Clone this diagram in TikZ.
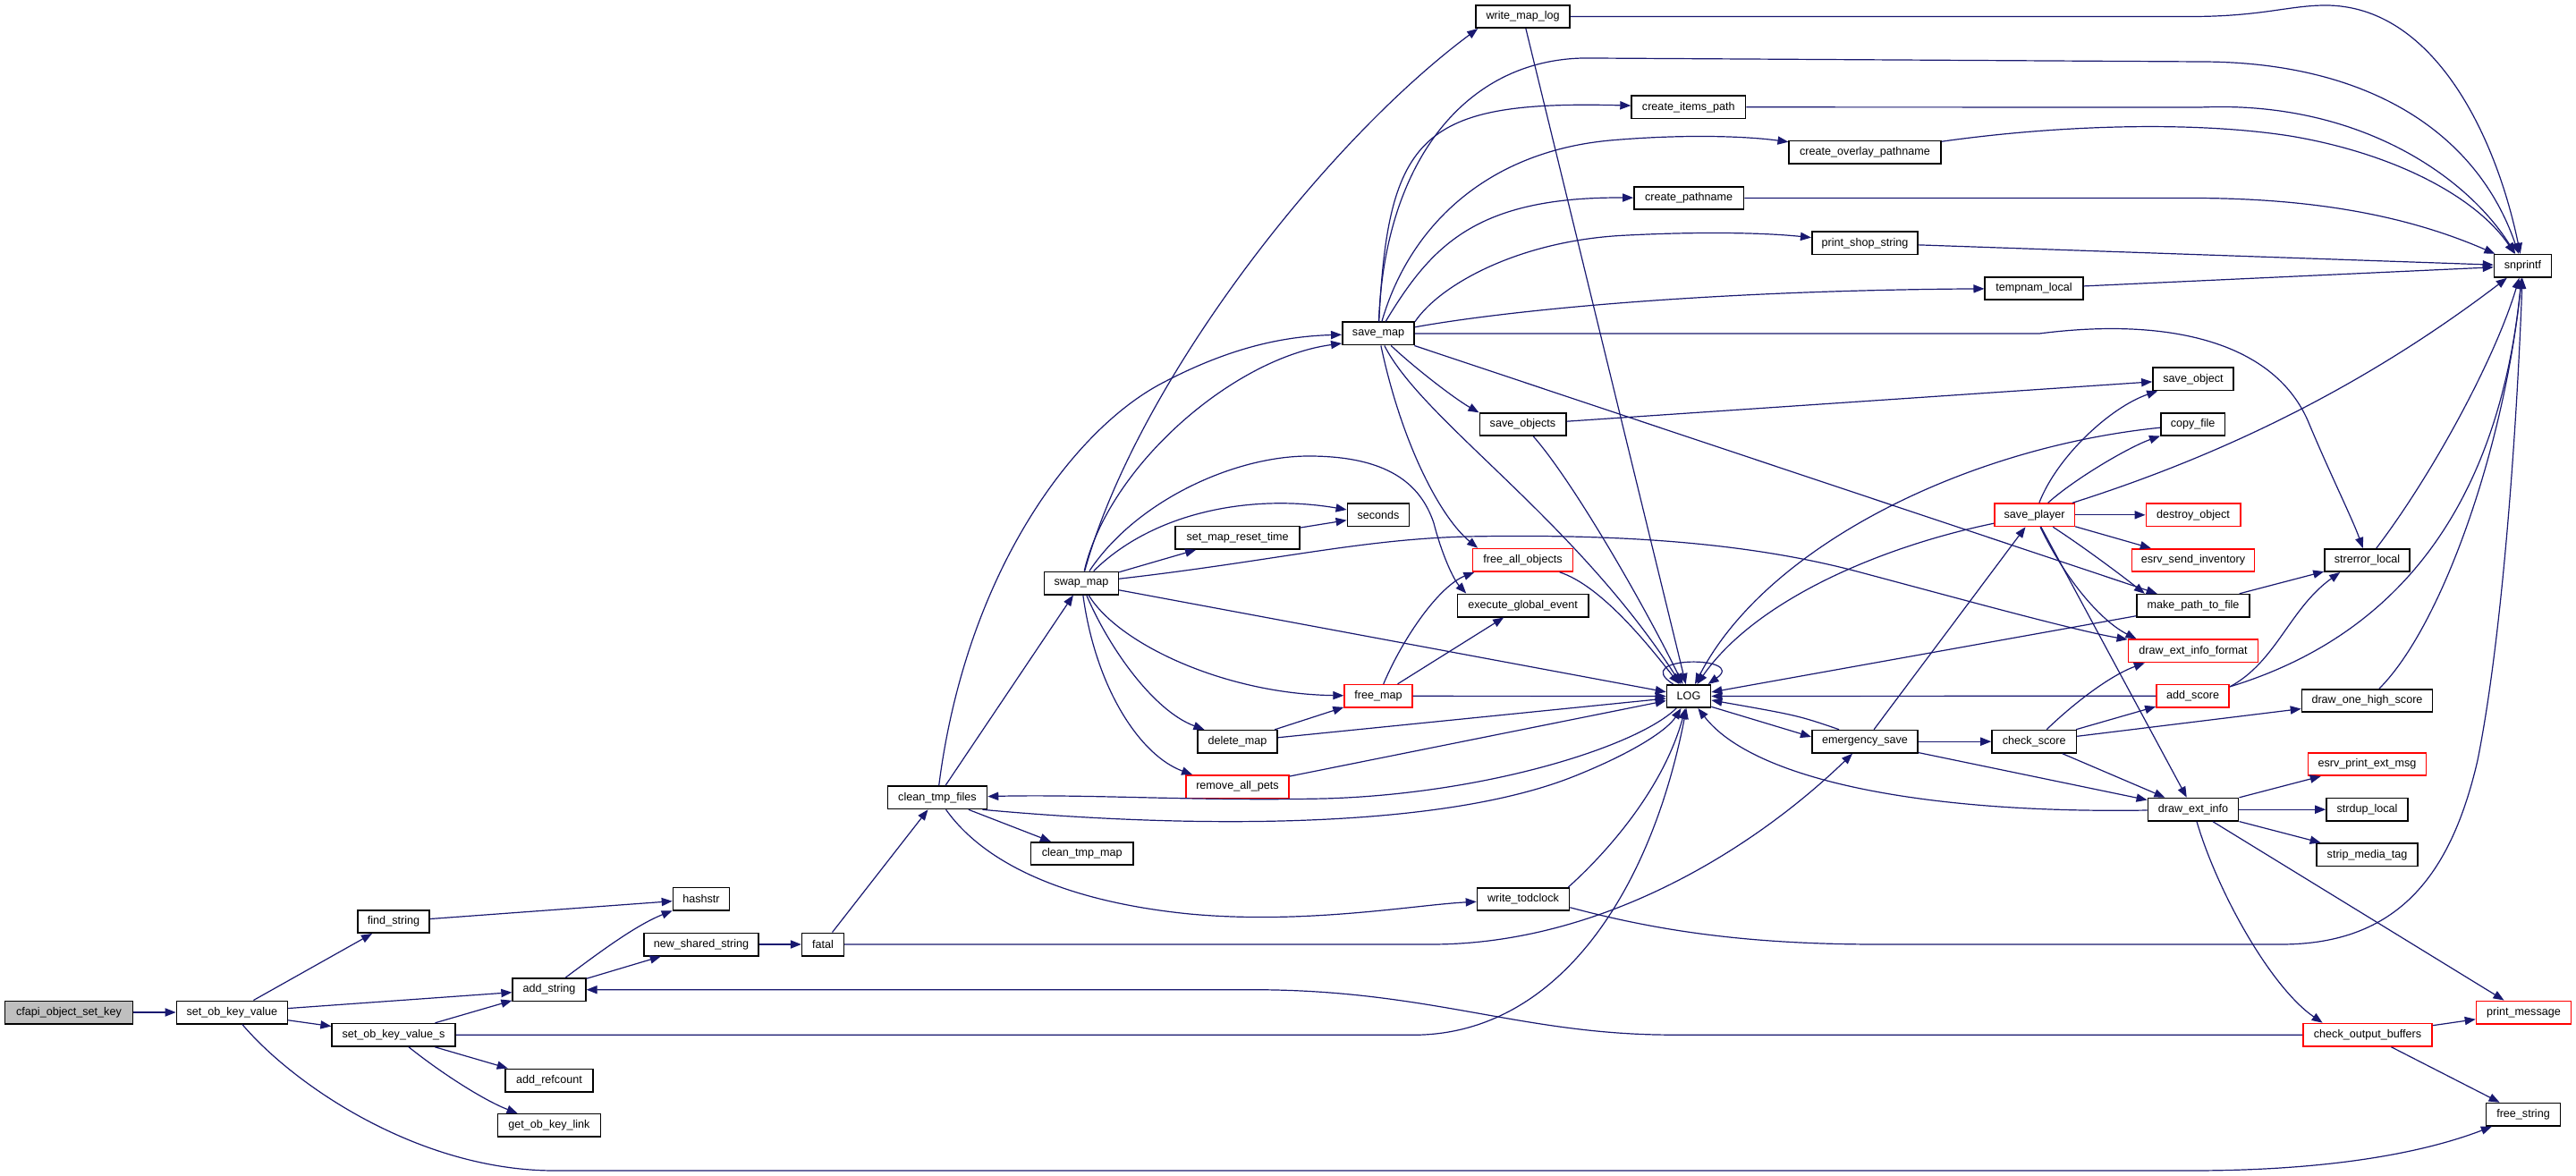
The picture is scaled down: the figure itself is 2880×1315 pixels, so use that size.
\documentclass[tikz,border=0pt]{standalone}
\usepackage{fontspec}
\setmainfont{Liberation Sans}
\usetikzlibrary{arrows.meta}
\definecolor{edgecol}{HTML}{191970}
\definecolor{grayfill}{HTML}{BFBFBF}
\newcommand{\fsz}{\fontsize{6.3}{7.5}\selectfont}
\begin{document}
\begin{tikzpicture}[x=0.5pt,y=-0.5pt,
 nd/.style={draw=black, line width=0.8pt, fill=white, minimum height=12.7pt, inner xsep=0pt, inner ysep=0pt, font=\fsz, text=black},
 rnd/.style={nd, draw=red},
 ed/.style={draw=edgecol, line width=0.6pt, -{Triangle[length=6pt,width=4.6pt]}}]
\fill[white] (0,0) rectangle (2880,1315);
\useasboundingbox (0,0) rectangle (2880,1315);
% nodes
\node[nd, minimum width=71.5pt, fill=grayfill] (cfapi) at (77,1132) {cfapi\_object\_set\_key};
\node[nd, minimum width=62pt] (sokv) at (259.4,1132) {set\_ob\_key\_value};
\node[nd, minimum width=40.15pt] (findstr) at (440,1030.5) {find\_string};
\node[nd, minimum width=68.85pt] (sokvs) at (440,1157.3) {set\_ob\_key\_value\_s};
\node[nd, minimum width=40.85pt] (addstr) at (614,1106.7) {add\_string};
\node[nd, minimum width=48.85pt] (addref) at (614,1208) {add\_refcount};
\node[nd, minimum width=57.5pt] (getlink) at (614,1258.3) {get\_ob\_key\_link};
\node[nd, minimum width=31.5pt] (hashstr) at (784,1005.3) {hashstr};
\node[nd, minimum width=64.15pt] (newss) at (784,1056) {new\_shared\_string};
\node[nd, minimum width=23.35pt] (fatal) at (920,1056) {fatal};
\node[nd, minimum width=55.5pt] (ctf) at (1048,891.8) {clean\_tmp\_files};
\node[nd, minimum width=41.35pt] (swap) at (1209,652) {swap\_map};
\node[nd, minimum width=57.35pt] (ctm) at (1209.7,954.5) {clean\_tmp\_map};
\node[nd, minimum width=69.35pt] (smrt) at (1383.6,601.3) {set\_map\_reset\_time};
\node[nd, minimum width=44.5pt] (delmap) at (1383.5,829.3) {delete\_map};
\node[rnd, minimum width=57.5pt] (rmpets) at (1383.5,879.7) {remove\_all\_pets};
\node[nd, minimum width=40.15pt] (savemap) at (1541,373) {save\_map};
\node[nd, minimum width=34.65pt] (seconds) at (1541,576) {seconds};
\node[rnd, minimum width=37.9pt] (freemap) at (1541,778.3) {free\_map};
\node[nd, minimum width=52.5pt] (wml) at (1702.6,18.5) {write\_map\_log};
\node[nd, minimum width=48.2pt] (saveobjs) at (1702.5,474.5) {save\_objects};
\node[rnd, minimum width=56pt] (freeall) at (1702.5,626.3) {free\_all\_objects};
\node[nd, minimum width=73.25pt] (ege) at (1702.7,677) {execute\_global\_event};
\node[nd, minimum width=51.5pt] (wtod) at (1703,1005.5) {write\_todclock};
\node[nd, minimum width=24.5pt] (LOG) at (1888,778.5) {LOG};
\node[nd, minimum width=63.7pt] (cip) at (1887.8,119.8) {create\_items\_path};
\node[nd, minimum width=61.3pt] (cpn) at (1888.2,221.5) {create\_pathname};
\node[nd, minimum width=84.75pt] (cop) at (2085,170.3) {create\_overlay\_pathname};
\node[nd, minimum width=59.25pt] (pss) at (2085,271.8) {print\_shop\_string};
\node[nd, minimum width=59.25pt] (esave) at (2085,829.2) {emergency\_save};
\node[nd, minimum width=54.75pt] (tmpnam) at (2274,322.5) {tempnam\_local};
\node[rnd, minimum width=44.75pt] (splayer) at (2274.6,575.8) {save\_player};
\node[nd, minimum width=47.2pt] (cscore) at (2274.2,829.2) {check\_score};
\node[nd, minimum width=45.1pt] (saveobj) at (2452,423.8) {save\_object};
\node[nd, minimum width=35.8pt] (copyfile) at (2451.6,474.5) {copy\_file};
\node[rnd, minimum width=52.7pt] (destroy) at (2452,575.8) {destroy\_object};
\node[rnd, minimum width=68.5pt] (esi) at (2452,626.5) {esrv\_send\_inventory};
\node[nd, minimum width=63pt] (mptf) at (2452,677.3) {make\_path\_to\_file};
\node[rnd, minimum width=72.65pt] (deif) at (2452,727.8) {draw\_ext\_info\_format};
\node[rnd, minimum width=40.65pt] (addscore) at (2451.6,778.2) {add\_score};
\node[nd, minimum width=50.65pt] (dei) at (2452,905.2) {draw\_ext\_info};
\node[nd, minimum width=47.5pt] (strerr) at (2646.5,626.5) {strerror\_local};
\node[nd, minimum width=73pt] (dohs) at (2646.5,783.5) {draw\_one\_high\_score};
\node[rnd, minimum width=66.15pt] (epem) at (2646.5,854.5) {esrv\_print\_ext\_msg};
\node[nd, minimum width=45.5pt] (strdup) at (2646.5,905.2) {strdup\_local};
\node[nd, minimum width=56.5pt] (smt) at (2646.5,955.8) {strip\_media\_tag};
\node[rnd, minimum width=72pt] (cob) at (2647,1157.2) {check\_output\_buffers};
\node[nd, minimum width=32pt] (snprintf) at (2820.5,297.3) {snprintf};
\node[rnd, minimum width=53pt] (pmsg) at (2821.5,1132) {print\_message};
\node[nd, minimum width=41.65pt] (freestr) at (2821,1246.2) {free\_string};
% edges
\draw[ed] (cfapi) -- (sokv);
\draw[ed] (sokv) -- (findstr);
\draw[ed] (sokv) -- (addstr);
\draw[ed] (sokv) -- (sokvs);
\draw[ed] (sokv) .. controls (330,1215) and (470,1309) .. (620,1309) -- (2450,1309) .. controls (2620,1309) and (2720,1285) .. (freestr);
\draw[ed] (findstr) -- (hashstr);
\draw[ed] (addstr) .. controls (670,1065) and (710,1035) .. (hashstr);
\draw[ed] (addstr) -- (newss);
\draw[ed] (sokvs) -- (addstr);
\draw[ed] (sokvs) -- (1580,1157.3) .. controls (1740,1157.3) and (1845,1000) .. (LOG);
\draw[ed] (sokvs) -- (addref);
\draw[ed] (sokvs) .. controls (500,1205) and (545,1232) .. (getlink);
\draw[ed] (newss) -- (fatal);
\draw[ed] (fatal) -- (ctf);
\draw[ed] (fatal) -- (1600,1056) .. controls (1790,1056) and (1960,950) .. (esave);
\draw[ed] (ctf) -- (swap);
\draw[ed] (ctf) .. controls (1080,640) and (1200,480) .. (1300,428) .. controls (1380,386) and (1440,376) .. (savemap);
\draw[ed] (ctf) -- (ctm);
\draw[ed] (ctf) .. controls (1100,965) and (1190,1008) .. (1330,1022) .. controls (1460,1034) and (1580,1012) .. (wtod);
\draw[ed] (ctf.-15) .. controls (1300,924) and (1600,932) .. (1760,868) .. controls (1830,840) and (1865,815) .. (LOG);
\draw[ed] (LOG) .. controls (1830,835) and (1660,888) .. (1480,893) .. controls (1340,896) and (1220,888) .. (ctf);
\draw[ed] (swap) .. controls (1240,520) and (1380,400) .. (savemap.195);
\draw[ed] (swap) .. controls (1270,430) and (1480,160) .. (wml.195);
\draw[ed] (swap) .. controls (1290,572) and (1400,552) .. (seconds);
\draw[ed] (swap) -- (smrt);
\draw[ed] (smrt) -- (seconds);
\draw[ed] (swap) .. controls (1270,560) and (1380,510) .. (1463,510) .. controls (1550,510) and (1588,540) .. (1603,585) .. controls (1612,620) and (1625,648) .. (ege.168);
\draw[ed] (swap) .. controls (1420,628) and (1520,603) .. (1640,600) .. controls (1800,597) and (1950,605) .. (2080,640) .. controls (2200,672) and (2320,705) .. (deif);
\draw[ed] (swap) -- (LOG);
\draw[ed] (swap) .. controls (1250,720) and (1370,776) .. (freemap);
\draw[ed] (swap) .. controls (1240,725) and (1290,795) .. (delmap.160);
\draw[ed] (swap) .. controls (1225,770) and (1275,845) .. (rmpets.165);
\draw[ed] (savemap) .. controls (1548,180) and (1640,62) .. (1780,65) -- (2460,69) .. controls (2650,69) and (2770,150) .. (snprintf);
\draw[ed] (savemap) .. controls (1552,150) and (1590,112) .. (cip);
\draw[ed] (savemap) .. controls (1575,255) and (1660,170) .. (1800,157) .. controls (1880,150) and (1950,152) .. (cop);
\draw[ed] (savemap) .. controls (1600,275) and (1650,220) .. (cpn);
\draw[ed] (savemap.18) .. controls (1610,318) and (1700,268) .. (1820,263) .. controls (1900,259) and (1970,260) .. (pss);
\draw[ed] (savemap.10) .. controls (1680,348) and (1900,325) .. (tmpnam);
\draw[ed] (savemap) -- (2280,373) .. controls (2420,355) and (2540,380) .. (2580,470) .. controls (2605,530) and (2630,580) .. (strerr);
\draw[ed] (savemap) -- (mptf);
\draw[ed] (savemap) .. controls (1580,410) and (1625,445) .. (saveobjs.165);
\draw[ed] (savemap) .. controls (1568,500) and (1612,580) .. (freeall.165);
\draw[ed] (savemap) .. controls (1590,470) and (1760,580) .. (LOG);
\draw[ed] (wml) -- (2454,18.5) .. controls (2530,18) and (2560,6) .. (2600,6) .. controls (2720,6) and (2790,150) .. (snprintf);
\draw[ed] (wml) -- (LOG);
\draw[ed] (cip) -- (2460,120) .. controls (2640,112) and (2760,200) .. (snprintf);
\draw[ed] (cop) .. controls (2300,140) and (2450,135) .. (2560,152) .. controls (2680,172) and (2770,222) .. (snprintf);
\draw[ed] (cpn) -- (2454,221.5) .. controls (2600,222) and (2700,245) .. (snprintf);
\draw[ed] (pss) -- (snprintf);
\draw[ed] (tmpnam) -- (snprintf);
\draw[ed] (saveobjs) -- (saveobj);
\draw[ed] (saveobjs) .. controls (1760,540) and (1840,680) .. (LOG);
\draw[ed] (freeall) .. controls (1790,655) and (1842,720) .. (LOG);
\draw[ed] (freemap) .. controls (1570,710) and (1610,655) .. (freeall.194);
\draw[ed] (freemap) -- (ege);
\draw[ed] (freemap) -- (LOG);
\draw[ed] (delmap) -- (freemap);
\draw[ed] (delmap) -- (LOG);
\draw[ed] (rmpets) -- (LOG);
\draw[ed] (wtod.15) .. controls (1800,950) and (1860,880) .. (LOG);
\draw[ed] (wtod.-10) .. controls (1850,1040) and (1950,1056) .. (2100,1056) -- (2550,1056) .. controls (2680,1056) and (2740,980) .. (2770,850) .. controls (2800,700) and (2815,450) .. (snprintf);
\draw[ed] (LOG.142) .. controls (1820,733) and (1955,733) .. (LOG.32);
\draw[ed] (LOG.-25) -- (esave.175);
\draw[ed] (esave.155) .. controls (2010,800) .. (LOG);
\draw[ed] (esave) -- (splayer);
\draw[ed] (esave) -- (cscore);
\draw[ed] (esave) -- (dei);
\draw[ed] (splayer) .. controls (2100,612) and (1962,672) .. (LOG);
\draw[ed] (copyfile) .. controls (2200,500) and (1975,610) .. (LOG);
\draw[ed] (splayer) .. controls (2300,510) and (2360,455) .. (saveobj);
\draw[ed] (splayer) .. controls (2320,535) and (2380,500) .. (copyfile);
\draw[ed] (splayer) .. controls (2450,520) and (2620,450) .. (snprintf);
\draw[ed] (splayer) -- (destroy);
\draw[ed] (splayer) -- (esi);
\draw[ed] (splayer) .. controls (2330,612) and (2370,642) .. (mptf.166);
\draw[ed] (splayer) .. controls (2310,650) and (2350,695) .. (deif.168);
\draw[ed] (splayer) -- (dei);
\draw[ed] (mptf) -- (strerr);
\draw[ed] (mptf) -- (LOG);
\draw[ed] (strerr) .. controls (2720,530) and (2790,400) .. (snprintf);
\draw[ed] (addscore) -- (LOG);
\draw[ed] (addscore.14) .. controls (2545,740) and (2560,680) .. (strerr.204);
\draw[ed] (addscore.14) .. controls (2650,720) and (2790,600) .. (snprintf);
\draw[ed] (cscore) -- (addscore);
\draw[ed] (cscore) .. controls (2320,785) and (2360,755) .. (deif.194);
\draw[ed] (cscore) -- (dohs);
\draw[ed] (cscore) -- (dei);
\draw[ed] (dohs) .. controls (2730,700) and (2800,500) .. (snprintf);
\draw[ed] (dei) .. controls (2150,910) and (1960,872) .. (LOG);
\draw[ed] (dei) -- (epem);
\draw[ed] (dei) -- (strdup);
\draw[ed] (dei) -- (smt);
\draw[ed] (dei) -- (pmsg);
\draw[ed] (dei) .. controls (2480,1000) and (2540,1105) .. (cob.165);
\draw[ed] (cob) -- (pmsg);
\draw[ed] (cob) -- (freestr);
\draw[ed] (cob) -- (1870,1157.2) .. controls (1700,1157.2) and (1600,1106.7) .. (1400,1106.7) -- (addstr);
\end{tikzpicture}
\end{document}
